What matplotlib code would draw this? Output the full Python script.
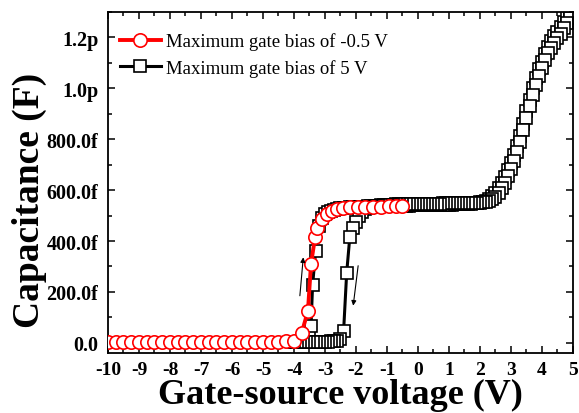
import numpy as np
import matplotlib
matplotlib.use('Agg')
import matplotlib.pyplot as plt
from matplotlib.ticker import MultipleLocator

plt.rcParams['font.family'] = ['Liberation Serif', 'DejaVu Serif']
plt.rcParams['axes.unicode_minus'] = False

# --- Max gate bias -0.5 V (red), C in fF ---
red_v = [-10.0, -9.75, -9.5, -9.25, -9.0, -8.75, -8.5, -8.25, -8.0, -7.75,
         -7.5, -7.25, -7.0, -6.75, -6.5, -6.25, -6.0, -5.75, -5.5, -5.25,
         -5.0, -4.75, -4.5, -4.25, -4.0, -3.75, -3.55, -3.45, -3.32, -3.25,
         -3.1, -2.95, -2.78, -2.6, -2.42, -2.2, -1.95, -1.7, -1.45, -1.2,
         -0.95, -0.7, -0.5]
red_c = [2, 2, 2, 2, 2, 2, 2, 2, 2, 2,
         2, 2, 2, 2, 2, 3, 3, 3, 3, 3,
         4, 4, 5, 6, 9, 40, 125, 310, 415, 450,
         486, 506, 518, 525, 529, 532, 533, 534, 534, 535,
         536, 536, 537]

# --- Max gate bias 5 V (black): forward sweep -4 -> 5 V ---
fwd_v = [-4.0, -3.9, -3.8, -3.7, -3.6, -3.5, -3.45, -3.4, -3.3, -3.2, -3.1,
         -3.0, -2.9, -2.8, -2.7, -2.6, -2.5, -2.4, -2.3, -2.2, -2.1,
         -2.0, -1.9, -1.8, -1.7, -1.6, -1.5, -1.4, -1.3, -1.2, -1.1,
         -1.0, -0.9, -0.8, -0.7, -0.6, -0.5, -0.4, -0.3, -0.2, -0.1,
         0.0, 0.1, 0.2, 0.3, 0.4, 0.5, 0.6, 0.7, 0.8, 0.9,
         1.0, 1.1, 1.2, 1.3, 1.4, 1.5, 1.6, 1.7, 1.8, 1.9,
         2.0, 2.1, 2.2, 2.3, 2.4, 2.5, 2.6, 2.7, 2.8, 2.9,
         3.0, 3.1, 3.2, 3.3, 3.4, 3.5, 3.6, 3.7, 3.8, 3.9,
         4.0, 4.1, 4.2, 4.3, 4.4, 4.5, 4.6, 4.7, 4.8, 4.9, 5.0]
fwd_c = [3, 3, 4, 6, 12, 28, 68, 227, 362, 460, 492,
         505, 513, 519, 523, 526, 528, 530, 531, 532, 533,
         534, 534, 535, 535, 536, 536, 536, 537, 537, 537,
         538, 538, 538, 538, 539, 539, 539, 539, 540, 540,
         540, 540, 541, 541, 541, 541, 542, 542, 542, 543,
         543, 543, 544, 544, 545, 545, 546, 547, 548, 549,
         551, 554, 559, 566, 576, 590, 607, 628, 652, 678,
         706, 738, 772, 812, 860, 910, 955, 1000, 1040, 1075,
         1105, 1135, 1162, 1185, 1205, 1222, 1240, 1260, 1282, 1300, 1320]

# reverse sweep 5 -> -4 V
rev_v = [5.0, 4.9, 4.8, 4.7, 4.6, 4.5, 4.4, 4.3, 4.2, 4.1,
         4.0, 3.9, 3.8, 3.7, 3.6, 3.5, 3.4, 3.3, 3.2, 3.1,
         3.0, 2.9, 2.8, 2.7, 2.6, 2.5, 2.4, 2.3, 2.2, 2.1,
         2.0, 1.9, 1.8, 1.7, 1.6, 1.5, 1.4, 1.3, 1.2, 1.1,
         1.0, 0.9, 0.8, 0.7, 0.6, 0.5, 0.4, 0.3, 0.2, 0.1,
         0.0, -0.1, -0.2, -0.3, -0.4, -0.5, -0.6, -0.7, -0.8, -0.9,
         -1.0, -1.1, -1.2, -1.3, -1.4, -1.5, -1.6, -1.7, -1.8, -1.9,
         -2.0, -2.1, -2.2, -2.3, -2.4, -2.5, -2.6, -2.7, -2.8, -2.9,
         -3.0, -3.1, -3.2, -3.3, -3.4, -3.5, -3.6, -3.7, -3.8, -3.9, -4.0]
rev_c = [1320, 1278, 1258, 1236, 1215, 1197, 1180, 1160, 1137, 1110,
         1080, 1050, 1015, 975, 930, 885, 835, 788, 748, 714,
         683, 655, 630, 608, 590, 575, 565, 559, 555, 553,
         552, 551, 551, 550, 550, 550, 549, 549, 549, 548,
         548, 548, 548, 547, 547, 547, 547, 546, 546, 546,
         546, 546, 545, 545, 545, 544, 544, 544, 543, 543,
         542, 541, 540, 539, 537, 534, 530, 524, 515, 500,
         476, 452, 415, 275, 45, 14, 9, 7, 6, 5,
         5, 4, 4, 4, 4, 3, 3, 3, 3, 3, 3]

xtick_vals = [-10, -9, -8, -7, -6, -5, -4, -3, -2, -1, 0, 1, 2, 3, 4, 5]
ytick_vals = [0, 200, 400, 600, 800, 1000, 1200]
ytick_labels = ['0.0', '200.0f', '400.0f', '600.0f', '800.0f', '1.0p', '1.2p']

label_red = 'Maximum gate bias of -0.5 V'
label_black = 'Maximum gate bias of 5 V'

fig = plt.figure(figsize=(5.79, 4.14), dpi=100)
ax = fig.add_axes([0.1865, 0.1449, 0.8031, 0.8237])

black_v = fwd_v + rev_v[1:]
black_c = fwd_c + rev_c[1:]
hb, = ax.plot(black_v, black_c, color='black', lw=2.2, marker='s', ms=8.2,
              mfc='white', mec='black', mew=1.2, zorder=2)
hr, = ax.plot(red_v, red_c, color='red', lw=2.8, marker='o', ms=9.6,
              mfc='white', mec='red', mew=1.2, zorder=3)

# sweep direction arrows
arrow = dict(arrowstyle='-|>', color='black', lw=0.8, mutation_scale=7,
             shrinkA=0, shrinkB=0)
ax.annotate('', xy=(-3.70, 336), xytext=(-3.81, 185), arrowprops=arrow, zorder=4)
ax.annotate('', xy=(-2.09, 146), xytext=(-1.93, 303), arrowprops=arrow, zorder=4)

ax.set_xlim(-10, 5)
ax.set_ylim(-40, 1300)
ax.set_xticks(xtick_vals, [str(v) for v in xtick_vals])
ax.set_yticks(ytick_vals, ytick_labels)
ax.xaxis.set_minor_locator(MultipleLocator(0.5))
ax.yaxis.set_minor_locator(MultipleLocator(100))

ax.tick_params(which='both', direction='in', top=True, right=True, width=1.1)
ax.tick_params(which='major', length=5, pad=7, labelsize=14.5)
ax.tick_params(axis='x', which='major', pad=6, labelsize=14)
ax.tick_params(which='minor', length=3)
for lab in ax.get_xticklabels() + ax.get_yticklabels():
    lab.set_fontweight('bold')
for sp in ax.spines.values():
    sp.set_linewidth(1.3)

ax.set_xlabel('Gate-source voltage (V)', fontsize=26, fontweight='bold', labelpad=0)
ax.set_ylabel('Capacitance (F)', fontsize=27, fontweight='bold')
ax.yaxis.set_label_coords(-0.132, 0.45)

ax.legend([hr, hb], [label_red, label_black], loc='upper left',
          bbox_to_anchor=(0.025, 0.94), frameon=False, fontsize=13.5,
          handlelength=2.2, handletextpad=0.3, labelspacing=0.45,
          borderpad=0, borderaxespad=0)

fig.savefig('out.png', dpi=100)
